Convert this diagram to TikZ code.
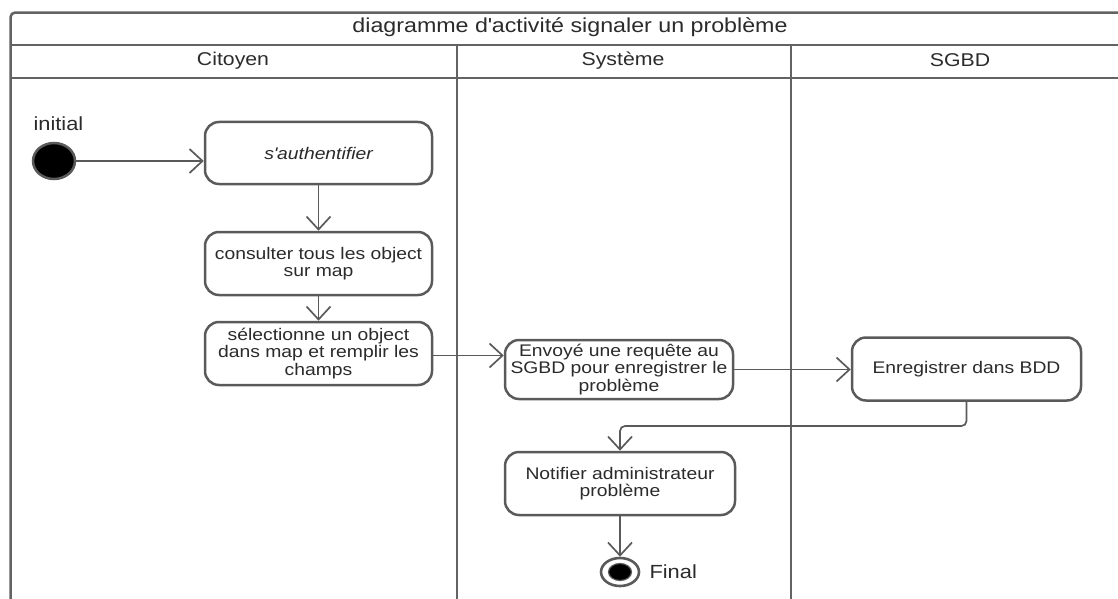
\documentclass[tikz,border=0pt]{standalone}
\usepackage{fontspec}
\setmainfont{Liberation Sans}[FakeStretch=1.15]
\usetikzlibrary{arrows.meta,shapes.geometric}
\definecolor{linegray}{HTML}{5A5A5A}
\definecolor{framegray}{HTML}{636363}
\definecolor{textgray}{HTML}{2B2B2B}
\begin{document}
\begin{tikzpicture}[x=1pt,y=-1pt,
  actbox/.style={draw=linegray, line width=2.5pt, rounded corners=14pt, fill=white,
    align=center, text=textgray, inner sep=2pt,
    font=\fontsize{16.8}{17.5}\selectfont},
  flow/.style={draw=linegray, line width=1.7pt,
    -{Straight Barb[length=13pt,width=24pt,line width=1.7pt]}},
  lane/.style={draw=framegray, line width=2.5pt},
  head/.style={text=textgray, font=\fontsize{18.5}{20}\selectfont},
  lbl/.style={text=textgray, font=\fontsize{19}{20}\selectfont}]
\useasboundingbox (0,0) rectangle (1118,599);

% swimlane frame
\draw[lane, rounded corners=4pt] (10.7,605) -- (10.7,12.7) -- (1125,12.7);
\draw[lane] (10.7,45) -- (1125,45);
\draw[lane] (10.7,78) -- (1125,78);
\draw[lane] (457,45) -- (457,605);
\draw[lane] (791,45) -- (791,605);

% title and lane headers
\node[head, font=\fontsize{20.2}{20}\selectfont] (title) at (570,27.5)
  {diagramme d\textquotesingle activité signaler un problème};
\node[head] (h1) at (233,60.5) {Citoyen};
\node[head] (h2) at (623,60.5) {Système};
\node[head] (h3) at (960,60.5) {SGBD};

% initial and final nodes
\node[ellipse, draw=linegray, line width=2.5pt, fill=black,
  minimum width=42pt, minimum height=36pt, inner sep=0pt] (init) at (54,161) {};
\node[lbl, anchor=west] (initlbl) at (30,124) {initial};

\node[ellipse, draw=linegray, line width=2.6pt, fill=white,
  minimum width=38pt, minimum height=28pt, inner sep=0pt] (fin) at (620,572) {};
\node[ellipse, draw=linegray, line width=1.2pt, fill=black,
  minimum width=23pt, minimum height=17pt, inner sep=0pt] (finin) at (620,572) {};
\node[lbl, anchor=west] (finlbl) at (646,572) {Final};

% activities
\node[actbox, minimum width=227pt, minimum height=62pt] (auth) at (318.5,153)
  {\itshape s\textquotesingle authentifier};
\node[actbox, minimum width=227pt, minimum height=63pt] (consult) at (318.5,263.5)
  {consulter tous les object\\sur map};
\node[actbox, minimum width=227pt, minimum height=63pt] (select) at (318.5,353.5)
  {sélectionne un object\\dans map et remplir les\\champs};
\node[actbox, minimum width=228pt, minimum height=59pt] (envoi) at (619,369.5)
  {Envoyé une requête au\\SGBD pour enregistrer le\\problème};
\node[actbox, minimum width=229pt, minimum height=63pt] (enreg) at (966.5,369)
  {Enregistrer dans BDD};
\node[actbox, minimum width=230pt, minimum height=63pt] (notif) at (620,483.5)
  {Notifier administrateur\\problème};

% control flows
\draw[flow] (init.east) -- (init.east -| auth.west);
\draw[flow] (auth.south) -- (consult.north);
\draw[flow] (consult.south) -- (select.north);
\draw[flow] ([yshift=-2pt]select.east) -- ([yshift=-2pt]select.east -| envoi.west);
\draw[flow] (envoi.east) -- (envoi.east -| enreg.west);
\coordinate (bend) at (966.5,426);
\draw[flow, rounded corners=5pt] (enreg.south) -- (bend) -| (notif.north);
\draw[flow] (notif.south) -- (fin.north);
\end{tikzpicture}
\end{document}
